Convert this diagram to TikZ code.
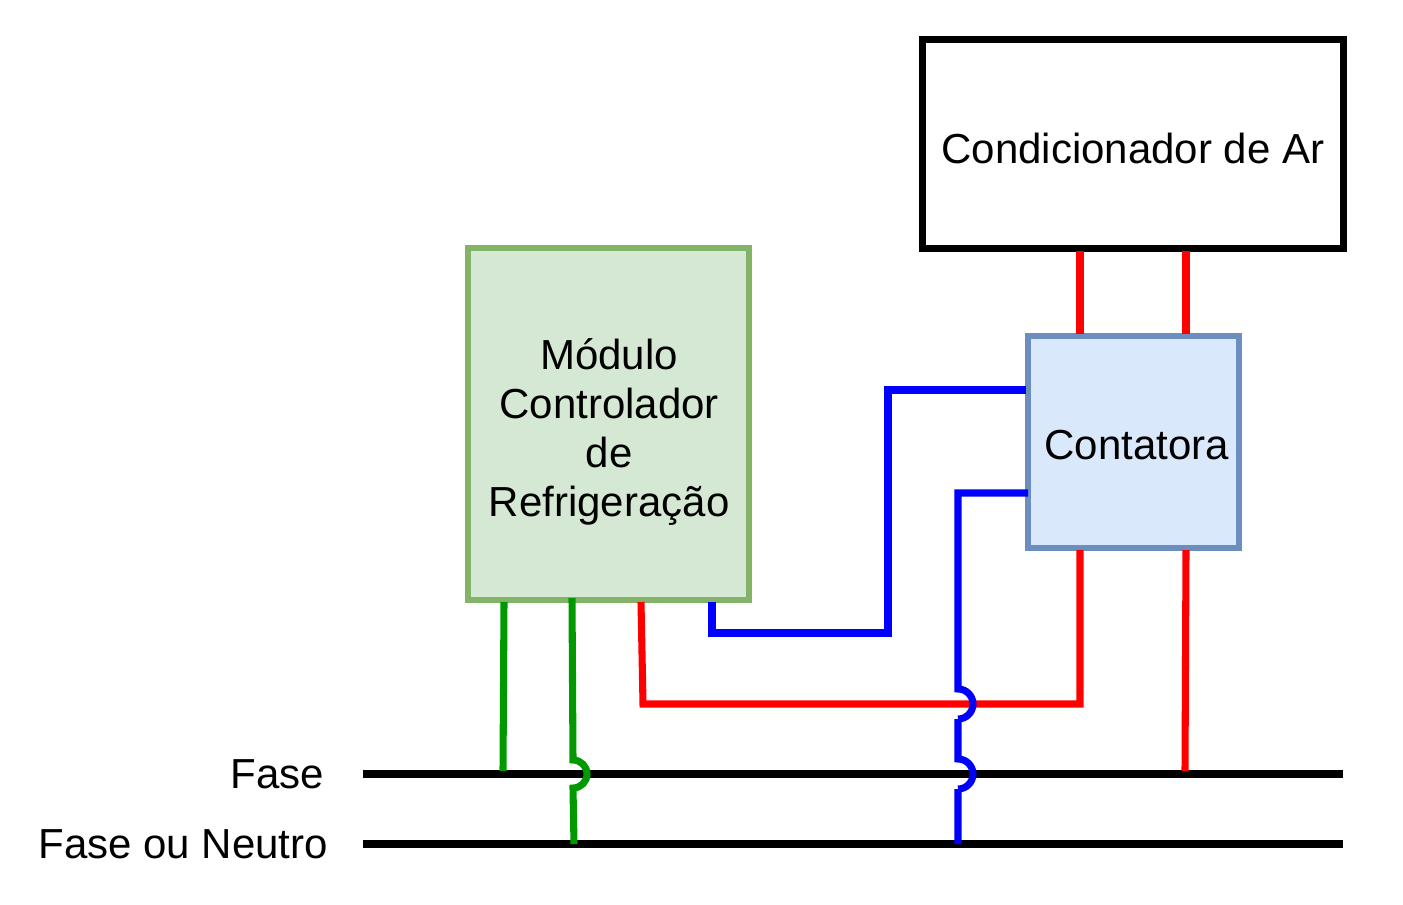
\documentclass[tikz,border=0pt]{standalone}
\usepackage{fontspec}
\setmainfont{Liberation Sans}
\begin{document}
\begin{tikzpicture}[x=0.75pt,y=-0.75pt,line join=miter,
  wire/.style={line width=5.3pt},
  boxbase/.style={draw,line width=5.3pt,inner sep=0pt,outer sep=0pt,align=center,font=\fontsize{31.5}{36.75}\selectfont},
  acbox/.style={boxbase,draw=black,fill=white,minimum width=315.75pt,minimum height=156.5pt},
  modbox/.style={boxbase,line width=4.8pt,draw=modline,fill=modfill,minimum width=210.75pt,minimum height=264pt},
  conbox/.style={boxbase,line width=4.8pt,draw=conline,fill=confill,minimum width=158.25pt,minimum height=159pt},
  lbl/.style={inner sep=0pt,outer sep=0pt,font=\fontsize{31.5}{36}\selectfont,anchor=base east}]
\definecolor{modline}{HTML}{82B366}\definecolor{modfill}{HTML}{D5E8D4}
\definecolor{conline}{HTML}{6C8EBF}\definecolor{confill}{HTML}{DAE8FC}
\definecolor{wgreen}{HTML}{009900}
\useasboundingbox (0,0) rectangle (1403,904);
\node[acbox] (ac) at (1133,144) {\rule{0pt}{29pt}Condicionador de Ar};
\node[modbox] (mod) at (608.5,424) {\hspace*{1pt}\rule{0pt}{35pt}Módulo\\\hspace*{1pt}Controlador\\\hspace*{1pt}de\\\hspace*{1pt}Refrigeração};
\node[conbox] (con) at (1133.5,442) {\hspace*{5pt}\rule{0pt}{26pt}Contatora};
\coordinate (fa) at (363,774); \coordinate (fb) at (1343,774);
\coordinate (na) at (363,844); \coordinate (nb) at (1343,844);
\node[lbl] (lf) at (324,788.5) {Fase};
\node[lbl] (ln) at (328,858.5) {Fase ou Neutro};
\draw[wire] (fa) -- (fb);
\draw[wire] (na) -- (nb);
\coordinate (g1a) at (504,602); \coordinate (g1b) at (503,771);
\coordinate (g2a) at (572,598); \coordinate (g2b) at (573,760);
\coordinate (g2d) at (574,844);
\coordinate (r1a) at (641,602); \coordinate (r1b) at (643,704); \coordinate (r1c) at (1080,704); \coordinate (r1d) at (1080,550);
\coordinate (r2a) at (1186,550); \coordinate (r2b) at (1185,771);
\coordinate (r3a) at (1080,251); \coordinate (r3b) at (1080,334);
\coordinate (r4a) at (1186,251); \coordinate (r4b) at (1186,334);
\coordinate (b1a) at (712,602); \coordinate (b1b) at (712,633); \coordinate (b1c) at (888,633); \coordinate (b1d) at (888,390); \coordinate (b1e) at (1026,390);
\coordinate (b2a) at (1028,493); \coordinate (b2b) at (958,493); \coordinate (b2c) at (958,689); \coordinate (b2d) at (958,719); \coordinate (b2e) at (958,759); \coordinate (b2f) at (958,789); \coordinate (b2g) at (958,844);
\draw[wire,red] (r3a) -- (r3b);
\draw[wire,red] (r4a) -- (r4b);
\draw[wire,red] (r1a) -- (r1b) -- (r1c) -- (r1d);
\draw[wire,red] (r2a) -- (r2b);
\draw[wire,wgreen] (g1a) -- (g1b);
\draw[wire,wgreen] (g2a) -- (g2b) arc[start angle=-90,end angle=90,radius=14] -- (g2d);
\draw[wire,blue] (b1a) -- (b1b) -- (b1c) -- (b1d) -- (b1e);
\draw[wire,blue] (b2a) -- (b2b) -- (b2c) arc[start angle=-90,end angle=90,radius=15] (b2d) -- (b2e) arc[start angle=-90,end angle=90,radius=15] (b2f) -- (b2g);
\end{tikzpicture}
\end{document}
